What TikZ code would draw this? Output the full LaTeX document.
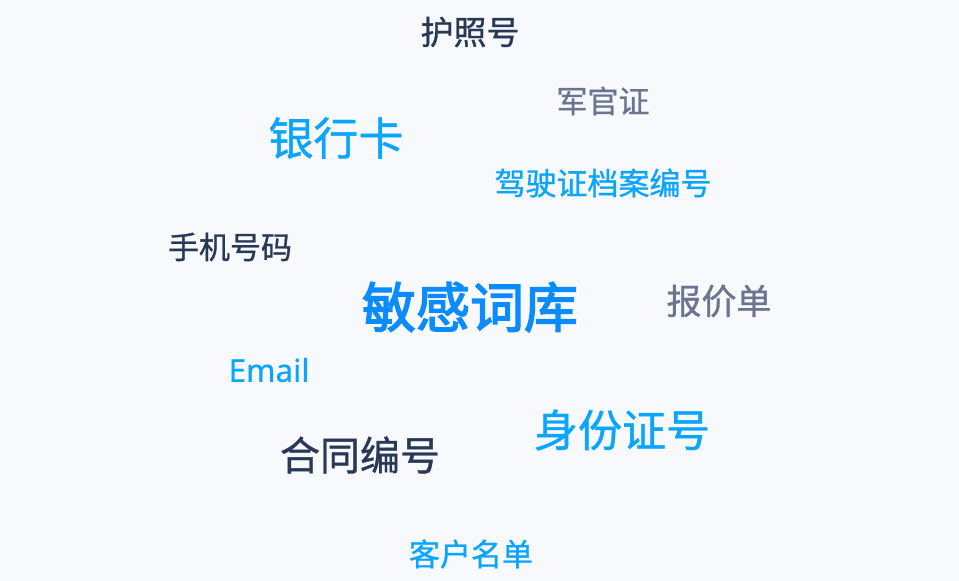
\documentclass[tikz,border=0pt]{standalone}
\usepackage{fontspec}
\setmainfont{Noto Sans CJK SC}[FakeBold=0.9]
\newfontfamily\heavy{Noto Sans CJK SC}[FakeBold=2.6]
\newfontfamily\latinsans{Noto Sans}[FakeBold=0.6]
\definecolor{bgc}{HTML}{F7F9FC}
\definecolor{navy}{HTML}{2A3858}
\definecolor{grayc}{HTML}{6C7590}
\definecolor{blueA}{HTML}{0A8BFF}
\definecolor{blueB}{HTML}{0AA5FF}
\tikzset{
  word/.style={inner sep=0pt, anchor=center},
  fs/.style={font=\fontsize{#1pt}{#1pt}\selectfont},
}
\begin{document}
\begin{tikzpicture}[x=1pt,y=-1pt]
\fill[bgc] (0,0) rectangle (959,581);
\useasboundingbox (0,0) rectangle (959,581);
\node[word, fs=33, text=navy] (huzhao) at (470,32) {护照号};
\node[word, fs=31, text=grayc] (junguan) at (603,101) {军官证};
\node[word, fs=45, text=blueB] (yinhang) at (336,138) {银行卡};
\node[word, fs=31, text=blueB] (jiashi) at (603,183) {驾驶证档案编号};
\node[word, fs=31, text=navy] (shouji) at (230,247) {手机号码};
\node[word, text=blueA] (minggan) at (470,307) {\heavy\fontsize{54pt}{54pt}\selectfont 敏感词库};
\node[word, fs=35, text=grayc] (baojia) at (719,301) {报价单};
\node[word, text=blueB] (email) at (269,370) {\latinsans\fontsize{31.5pt}{31.5pt}\selectfont Email};
\node[word, fs=44, text=blueB] (shenfen) at (622,430) {身份证号};
\node[word, fs=40, text=navy] (hetong) at (360,455) {合同编号};
\node[word, fs=31, text=blueB] (kehu) at (471,554) {客户名单};
\end{tikzpicture}
\end{document}
